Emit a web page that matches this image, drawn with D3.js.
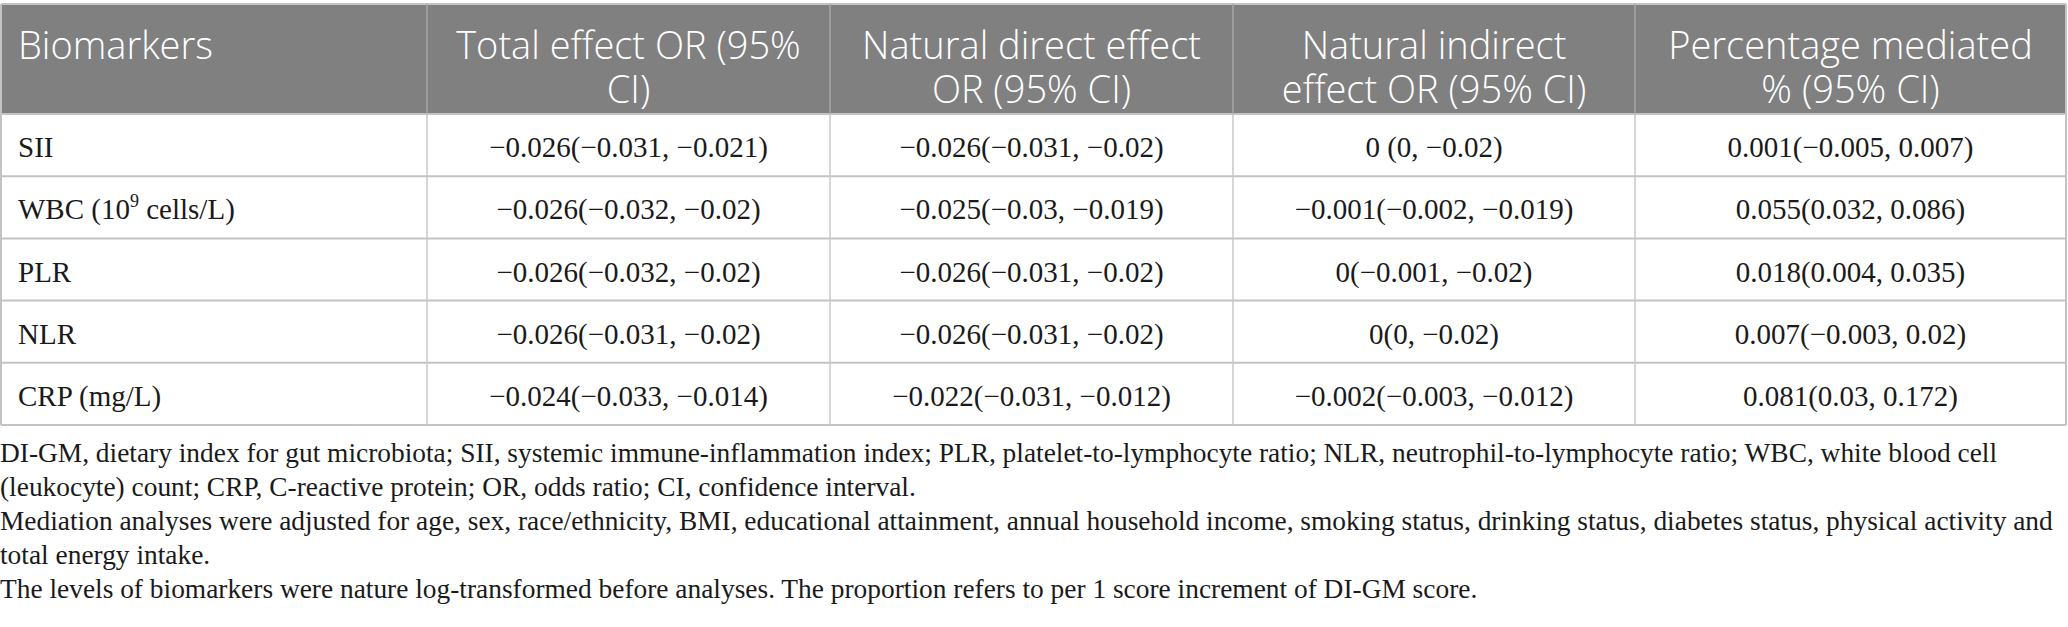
<!DOCTYPE html>
<html>
<head>
<meta charset="utf-8">
<script src="https://cdn.jsdelivr.net/npm/d3@7"></script>
<style>
  html, body { margin: 0; padding: 0; background: #ffffff; }
  svg { display: block; }
</style>
</head>
<body>
<svg id="chart" width="2068" height="627"></svg>
<script>
// ---- data ----
const headers = [
  ["Biomarkers"],
  ["Total effect OR (95%", "CI)"],
  ["Natural direct effect", "OR (95% CI)"],
  ["Natural indirect", "effect OR (95% CI)"],
  ["Percentage mediated", "% (95% CI)"]
];
const biomarkers = ["SII", "WBC", "PLR", "NLR", "CRP (mg/L)"];
const totalEffect = [
  "\u22120.026(\u22120.031, \u22120.021)",
  "\u22120.026(\u22120.032, \u22120.02)",
  "\u22120.026(\u22120.032, \u22120.02)",
  "\u22120.026(\u22120.031, \u22120.02)",
  "\u22120.024(\u22120.033, \u22120.014)"
];
const directEffect = [
  "\u22120.026(\u22120.031, \u22120.02)",
  "\u22120.025(\u22120.03, \u22120.019)",
  "\u22120.026(\u22120.031, \u22120.02)",
  "\u22120.026(\u22120.031, \u22120.02)",
  "\u22120.022(\u22120.031, \u22120.012)"
];
const indirectEffect = [
  "0 (0, \u22120.02)",
  "\u22120.001(\u22120.002, \u22120.019)",
  "0(\u22120.001, \u22120.02)",
  "0(0, \u22120.02)",
  "\u22120.002(\u22120.003, \u22120.012)"
];
const percentMediated = [
  "0.001(\u22120.005, 0.007)",
  "0.055(0.032, 0.086)",
  "0.018(0.004, 0.035)",
  "0.007(\u22120.003, 0.02)",
  "0.081(0.03, 0.172)"
];
const footnotes = [
  "DI-GM, dietary index for gut microbiota; SII, systemic immune-inflammation index; PLR, platelet-to-lymphocyte ratio; NLR, neutrophil-to-lymphocyte ratio; WBC, white blood cell",
  "(leukocyte) count; CRP, C-reactive protein; OR, odds ratio; CI, confidence interval.",
  "Mediation analyses were adjusted for age, sex, race/ethnicity, BMI, educational attainment, annual household income, smoking status, drinking status, diabetes status, physical activity and",
  "total energy intake.",
  "The levels of biomarkers were nature log-transformed before analyses. The proportion refers to per 1 score increment of DI-GM score."
];

// ---- layout ----
const colEdges = [1, 427, 830, 1233, 1635, 2066];
const tableTop = 4, headerBottom = 114, tableBottom = 425;
const headerFont = "'Open Sans', 'Noto Sans', sans-serif";
const bodyFont = "'Liberation Serif', 'DejaVu Serif', serif";

const svg = d3.select("#chart");
const columns = [biomarkers, totalEffect, directEffect, indirectEffect, percentMediated];
const rowIdx = d3.range(biomarkers.length);

const y = d3.scaleBand().domain(rowIdx).range([headerBottom, tableBottom]);
const colIdx = d3.range(columns.length);
const colLeft = i => colEdges[i];
const colMid = i => (colEdges[i] + colEdges[i + 1]) / 2;

// header background
svg.append("rect")
  .attr("x", colEdges[0]).attr("y", tableTop)
  .attr("width", colEdges[5] - colEdges[0]).attr("height", headerBottom - tableTop)
  .attr("fill", "#808080");

// row separators
const hLines = [tableTop, headerBottom].concat(rowIdx.map(i => y(i) + y.bandwidth()));
svg.selectAll("line.h").data(hLines).enter().append("line")
  .attr("class", "h")
  .attr("x1", colEdges[0]).attr("x2", colEdges[5])
  .attr("y1", d => d).attr("y2", d => d)
  .attr("stroke", "#c3c3c3").attr("stroke-width", 2);

// vertical lines (header)
svg.selectAll("line.vh").data(colEdges.slice(1, -1)).enter().append("line")
  .attr("class", "vh")
  .attr("x1", d => d).attr("x2", d => d)
  .attr("y1", tableTop).attr("y2", headerBottom)
  .attr("stroke", "#a6a6a6").attr("stroke-width", 1.5);
// vertical lines (body)
svg.selectAll("line.vb").data(colEdges.slice(1, -1)).enter().append("line")
  .attr("class", "vb")
  .attr("x1", d => d).attr("x2", d => d)
  .attr("y1", headerBottom).attr("y2", tableBottom)
  .attr("stroke", "#c8c8c8").attr("stroke-width", 1.5);
// outer verticals
svg.selectAll("line.vo").data([colEdges[0], colEdges[5]]).enter().append("line")
  .attr("class", "vo")
  .attr("x1", d => d).attr("x2", d => d)
  .attr("y1", tableTop).attr("y2", tableBottom)
  .attr("stroke", "#c3c3c3").attr("stroke-width", 2);

// header text
const hg = svg.selectAll("g.hdr").data(headers).enter().append("g").attr("class", "hdr");
hg.each(function(lines, i) {
  const t = d3.select(this).append("text")
    .attr("font-family", headerFont)
    .attr("font-size", 38)
    .attr("font-weight", 300)
    .attr("fill", "#ffffff")
    .attr("text-anchor", i === 0 ? "start" : "middle");
  lines.forEach((ln, k) => {
    t.append("tspan")
      .attr("x", i === 0 ? colLeft(i) + 17 : colMid(i))
      .attr("y", 59 + k * 44)
      .text(ln);
  });
});

// body text
colIdx.forEach(ci => {
  const txt = svg.selectAll("text.c" + ci).data(columns[ci]).enter().append("text")
    .attr("class", "c" + ci)
    .attr("font-family", bodyFont)
    .attr("font-size", 29)
    .attr("fill", "#1a1a1a")
    .attr("text-anchor", ci === 0 ? "start" : "middle")
    .attr("x", ci === 0 ? colLeft(ci) + 17 : colMid(ci))
    .attr("y", (d, r) => y(r) + y.bandwidth() / 2 + 12);
  txt.each(function(d) {
    const el = d3.select(this);
    if (ci === 0 && d === "WBC") {
      el.append("tspan").text("WBC (10");
      el.append("tspan").attr("font-size", 18).attr("dy", -12).text("9");
      el.append("tspan").attr("dy", 12).text(" cells/L)");
    } else {
      el.text(d);
    }
  });
});

// footnotes
svg.selectAll("text.fn").data(footnotes).enter().append("text")
  .attr("class", "fn")
  .attr("font-family", bodyFont)
  .attr("font-size", 27.4)
  .attr("fill", "#1a1a1a")
  .attr("x", 0)
  .attr("y", (d, i) => 462 + i * 34)
  .text(d => d);
</script>
</body>
</html>
